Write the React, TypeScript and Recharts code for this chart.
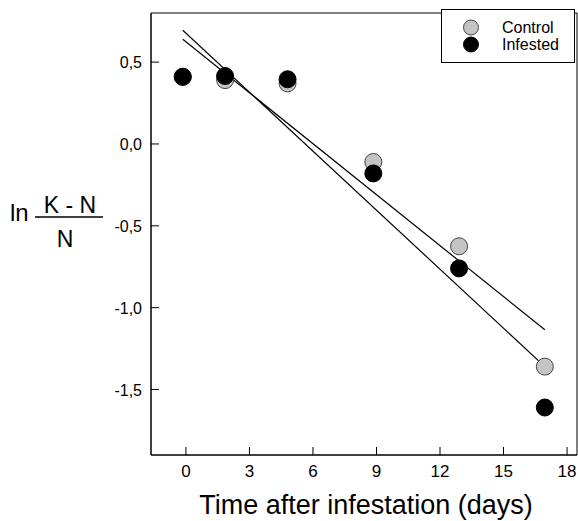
import { ComposedChart, Line, Scatter, XAxis, YAxis, ReferenceArea } from "recharts";

const days = [-0.15, 1.85, 4.8, 8.85, 12.9, 16.95];
const controlValues = [0.41, 0.39, 0.37, -0.11, -0.625, -1.36];
const infestedValues = [0.41, 0.415, 0.395, -0.18, -0.76, -1.61];

const fitDays = [-0.15, 16.95];
const fitSteep = [0.695, -1.36];
const fitShallow = [0.64, -1.135];

const xTicks = [0, 3, 6, 9, 12, 15, 18];
const yTicks = [0.5, 0, -0.5, -1, -1.5];
const xDomain = [-1.65, 18.47];
const yDomain = [-1.9, 0.8];

const legendItems = [
  { name: "Control", fill: "#c4c4c4", stroke: "#444" },
  { name: "Infested", fill: "#000", stroke: "#000" },
];

const control = days.map((x, i) => ({ x, y: controlValues[i] }));
const infested = days.map((x, i) => ({ x, y: infestedValues[i] }));
const steep = fitDays.map((x, i) => ({ x, y: fitSteep[i] }));
const shallow = fitDays.map((x, i) => ({ x, y: fitShallow[i] }));

const font = "'Liberation Sans', Arial, sans-serif";
const comma = (v: number) => v.toFixed(1).replace(".", ",");

const XTick = (props: any) => {
  const { x, y, payload } = props;
  return (
    <g>
      <line x1={x} y1={y} x2={x} y2={y - 8} stroke="#000" />
      <text x={x} y={y + 22} textAnchor="middle" fontSize={17} fontFamily={font} fill="#000">
        {payload.value}
      </text>
    </g>
  );
};

const YTick = (props: any) => {
  const { x, y, payload } = props;
  return (
    <g>
      <line x1={x} y1={y} x2={x + 8} y2={y} stroke="#000" />
      <text x={x - 9} y={y + 6} textAnchor="end" fontSize={16} fontFamily={font} fill="#000">
        {comma(payload.value)}
      </text>
    </g>
  );
};

const Dot = (fill: string, stroke: string) => (props: any) =>
  <circle cx={props.cx} cy={props.cy} r={8.5} fill={fill} stroke={stroke} strokeWidth={1} />;

const YLabel = () => (
  <g fontFamily={font} fill="#000">
    <text x={10} y={221} fontSize={24}>ln</text>
    <text x={70} y={213} fontSize={23} textAnchor="middle">K - N</text>
    <line x1={35} y1={217} x2={103} y2={217} stroke="#000" strokeWidth={1.5} />
    <text x={65} y={247} fontSize={23} textAnchor="middle">N</text>
  </g>
);

const XLabel = () => (
  <text x={366} y={514} textAnchor="middle" fontSize={27} fontFamily={font} fill="#000">
    Time after infestation (days)
  </text>
);

const LegendBox = () => (
  <div
    style={{
      position: "absolute",
      left: 441,
      top: 9,
      width: 134,
      height: 54,
      boxSizing: "border-box",
      border: "1px solid #000",
      background: "#fff",
      fontFamily: font,
      fontSize: 16,
    }}
  >
    {legendItems.map((e, i) => (
      <div key={e.name} style={{ position: "absolute", left: 20, top: 9 + i * 17, height: 17, display: "flex", alignItems: "center" }}>
        <svg width={18} height={17}>
          <circle cx={9} cy={8.5} r={7.5} fill={e.fill} stroke={e.stroke} />
        </svg>
        <span style={{ marginLeft: 22, lineHeight: "17px" }}>{e.name}</span>
      </div>
    ))}
  </div>
);

export default function App() {
  return (
    <div style={{ position: "absolute", left: 0, top: 0, width: 578, height: 521, background: "#fff" }}>
      <ComposedChart width={578} height={521} margin={{ top: 13, right: 1, left: 0, bottom: 0 }}>
        <XAxis
          type="number"
          dataKey="x"
          domain={xDomain}
          ticks={xTicks}
          allowDataOverflow
          height={66}
          tickSize={0}
          tickMargin={0}
          tickLine={false}
          axisLine={{ stroke: "#000" }}
          tick={<XTick />}
          label={<XLabel />}
        />
        <YAxis
          type="number"
          dataKey="y"
          domain={yDomain}
          ticks={yTicks}
          allowDataOverflow
          width={151}
          tickSize={0}
          tickMargin={0}
          tickLine={false}
          axisLine={{ stroke: "#000" }}
          tick={<YTick />}
          label={<YLabel />}
        />
        <ReferenceArea x1={xDomain[0]} x2={xDomain[1]} y1={yDomain[0]} y2={yDomain[1]} fill="none" stroke="#000" />
        <Line data={steep} dataKey="y" stroke="#000" strokeWidth={1.2} dot={false} isAnimationActive={false} />
        <Line data={shallow} dataKey="y" stroke="#000" strokeWidth={1.2} dot={false} isAnimationActive={false} />
        <Scatter name="Control" data={control} shape={Dot("#c4c4c4", "#444")} isAnimationActive={false} />
        <Scatter name="Infested" data={infested} shape={Dot("#000", "#000")} isAnimationActive={false} />
      </ComposedChart>
      <LegendBox />
    </div>
  );
}
